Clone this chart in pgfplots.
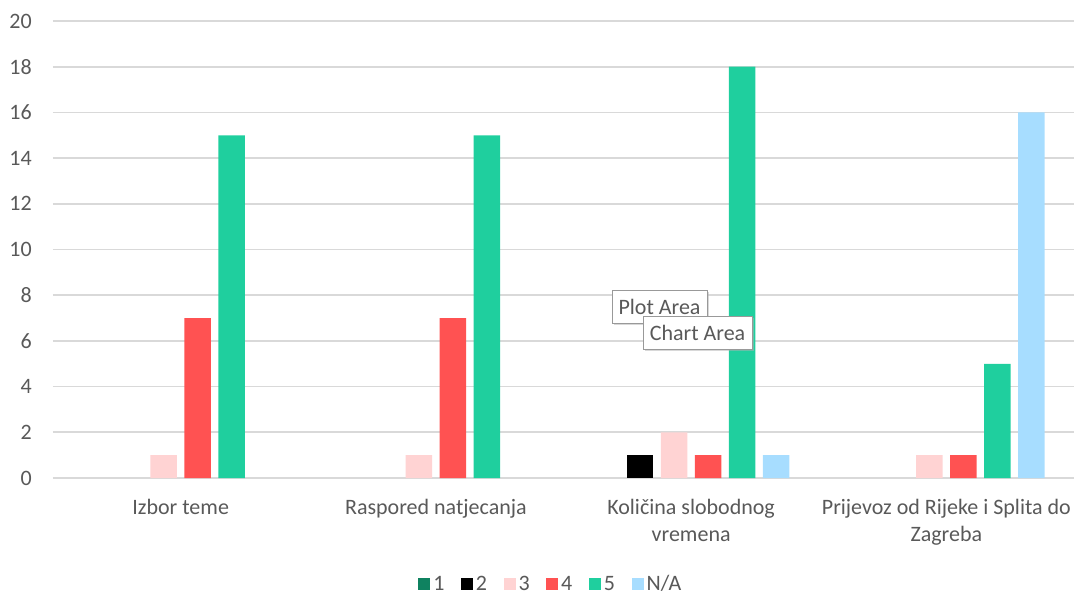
\documentclass[border=0pt]{standalone}
\usepackage{fontspec}
\setmainfont{Carlito}
\usepackage{pgfplots}
\pgfplotsset{compat=1.18}
\usetikzlibrary{shadows}
\definecolor{cA}{HTML}{0F8260}
\definecolor{cB}{HTML}{000000}
\definecolor{cC}{HTML}{FFD3D3}
\definecolor{cD}{HTML}{FF5252}
\definecolor{cE}{HTML}{1FCF9E}
\definecolor{cF}{HTML}{A7DDFF}
\definecolor{txt}{HTML}{595959}
\definecolor{grd}{HTML}{D9D9D9}
\begin{document}
\begin{tikzpicture}
\begin{axis}[
  scale only axis,
  width=1021pt, height=457pt,
  xmin=-0.5, xmax=3.5, ymin=0, ymax=20,
  ytick={0,2,...,20},
  xtick={0,1,2,3},
  xticklabels={Izbor teme, Raspored natjecanja, Količina slobodnog\\vremena, Prijevoz od Rijeke i Splita do\\Zagreba},
  major tick length=0pt,
  axis line style={draw=none},
  ymajorgrids,
  grid style={draw=grd, line width=1.7pt},
  /pgf/number format/assume math mode=true,
  tick label style={font=\fontsize{22}{27}\selectfont, text=txt},
  yticklabel style={inner sep=0pt, xshift=-21pt},
  xticklabel style={align=center, inner sep=0pt, yshift=-21pt},
  ybar, bar width=26.5pt,
  legend columns=-1,
  legend style={draw=none, font=\fontsize{22}{25}\selectfont, text=txt,
    at={(0.488,-0.232)}, anchor=center,
    /tikz/every odd column/.append style={column sep=0pt},
    /tikz/every even column/.append style={column sep=13.5pt},
    nodes={inner sep=3pt}},
  legend image code/.code={\fill[#1] (0pt,-6pt) rectangle (12pt,6pt);},
]
\addlegendimage{fill=cA, draw=none}
\addlegendimage{fill=cB, draw=none}
\addlegendimage{fill=cC, draw=none}
\addlegendimage{fill=cD, draw=none}
\addlegendimage{fill=cE, draw=none}
\addlegendimage{fill=cF, draw=none}
% series "1": all values are 0 (no visible bars)
\addplot[forget plot, fill=cB, draw=none, bar shift=-51pt] coordinates {(2,1)};
\addplot[forget plot, fill=cC, draw=none, bar shift=-17pt] coordinates {(0,1) (1,1) (2,2) (3,1)};
\addplot[forget plot, fill=cD, draw=none, bar shift=17pt] coordinates {(0,7) (1,7) (2,1) (3,1)};
\addplot[forget plot, fill=cE, draw=none, bar shift=51pt] coordinates {(0,15) (1,15) (2,18) (3,5)};
\addplot[forget plot, fill=cF, draw=none, bar shift=85pt] coordinates {(2,1) (3,16)};
\legend{1,2,3,4,5,N/A}
\end{axis}
\node[draw=gray!80, line width=1pt, fill=white, text=txt, font=\fontsize{22}{25}\selectfont,
  minimum width=95pt, minimum height=33pt, inner sep=0pt,
  drop shadow={shadow xshift=2pt, shadow yshift=-2pt, fill=gray!60}]
  at ([shift={(606.5pt,171.5pt)}]current axis.south west) {Plot Area};
\node[draw=gray!80, line width=1pt, fill=white, text=txt, font=\fontsize{22}{25}\selectfont,
  minimum width=109pt, minimum height=33pt, inner sep=0pt,
  drop shadow={shadow xshift=2pt, shadow yshift=-2pt, fill=gray!60}]
  at ([shift={(644.5pt,145.5pt)}]current axis.south west) {Chart Area};
\pgfresetboundingbox
\path ([shift={(-53pt,-117pt)}]current axis.south west) rectangle ++(1079pt,595pt);
\end{tikzpicture}
\end{document}
